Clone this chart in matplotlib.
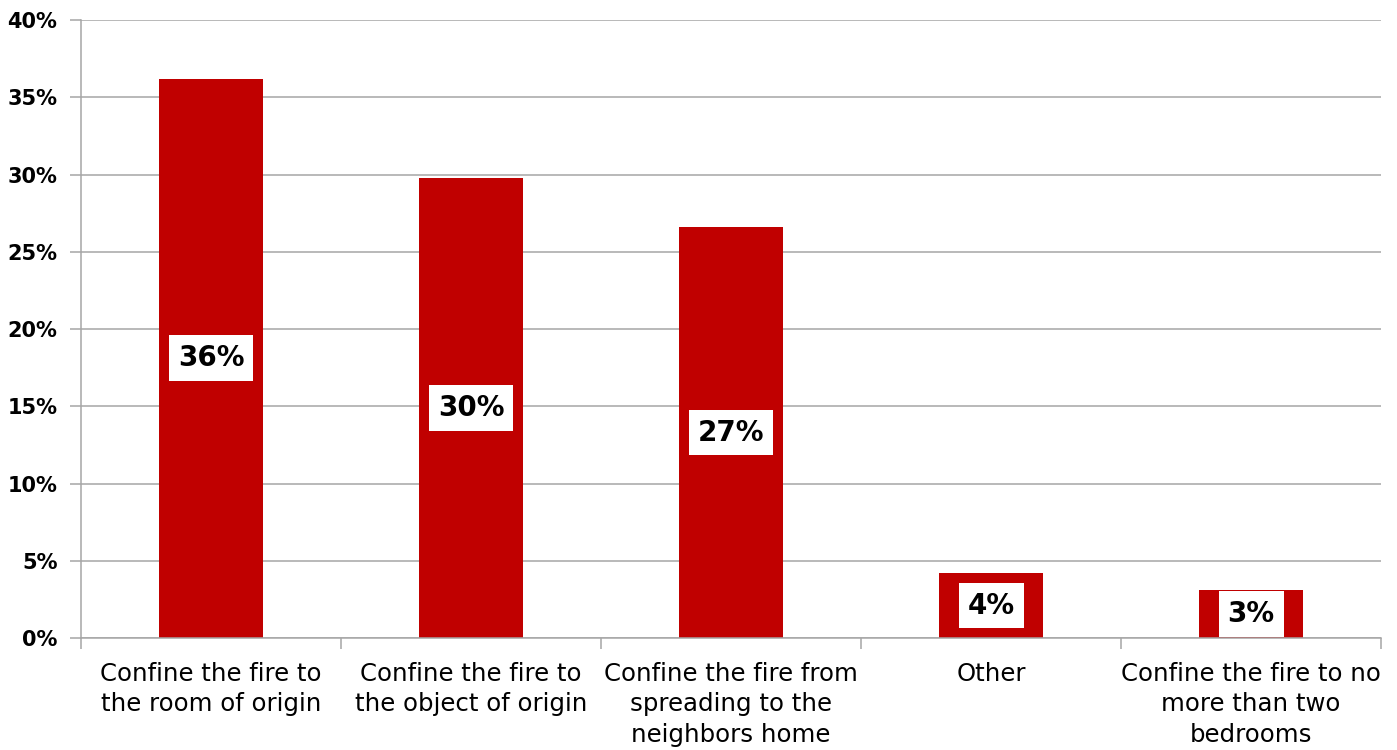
import matplotlib.pyplot as plt
from matplotlib.ticker import PercentFormatter

categories = [
    "Confine the fire to\nthe room of origin",
    "Confine the fire to\nthe object of origin",
    "Confine the fire from\nspreading to the\nneighbors home",
    "Other",
    "Confine the fire to no\nmore than two\nbedrooms",
]
shares = [0.362, 0.298, 0.266, 0.042, 0.031]
y_ticks = [0.0, 0.05, 0.10, 0.15, 0.20, 0.25, 0.30, 0.35, 0.40]

BAR_RED = "#C00000"
GRID_GRAY = "#A6A6A6"

plt.rcParams['font.family'] = ['DejaVu Sans']

fig = plt.figure(figsize=(13.97, 7.5), dpi=100)
ax = fig.add_axes([0.058, 0.1493, 0.9306, 0.824])

x = list(range(len(categories)))
bars = ax.bar(x, shares, width=0.4, color=BAR_RED, zorder=2)

# value labels in white boxes, centred in each bar
for rect, v in zip(bars, shares):
    ax.text(rect.get_x() + rect.get_width() / 2, v / 2, f"{v * 100:.0f}%",
            ha="center", va="center", fontsize=20, fontweight="bold",
            color="black", zorder=3,
            bbox=dict(boxstyle="square,pad=0.32", facecolor="white",
                      edgecolor="none"))

ax.set_xlim(-0.5, len(categories) - 0.5)
ax.set_ylim(0, 0.40)
ax.set_yticks(y_ticks)
ax.yaxis.set_major_formatter(PercentFormatter(1.0, decimals=0))
ax.grid(axis="y", color=GRID_GRAY, linewidth=1.1, zorder=0)

ax.set_xticks(x)
ax.set_xticklabels(categories, fontsize=17.6, linespacing=1.36)
ax.set_xticks([i - 0.5 for i in range(len(categories) + 1)], minor=True)
ax.tick_params(axis="x", which="major", length=0, pad=17)
ax.tick_params(axis="x", which="minor", length=8, color=GRID_GRAY, width=1.1)
ax.tick_params(axis="y", length=8, color=GRID_GRAY, width=1.1, pad=9)
for lbl in ax.get_yticklabels():
    lbl.set_fontsize(15)
    lbl.set_fontweight("bold")

for side in ("top", "right"):
    ax.spines[side].set_visible(False)
for side in ("left", "bottom"):
    ax.spines[side].set_color(GRID_GRAY)
    ax.spines[side].set_linewidth(1.1)

fig.savefig("out.png", dpi=100)
